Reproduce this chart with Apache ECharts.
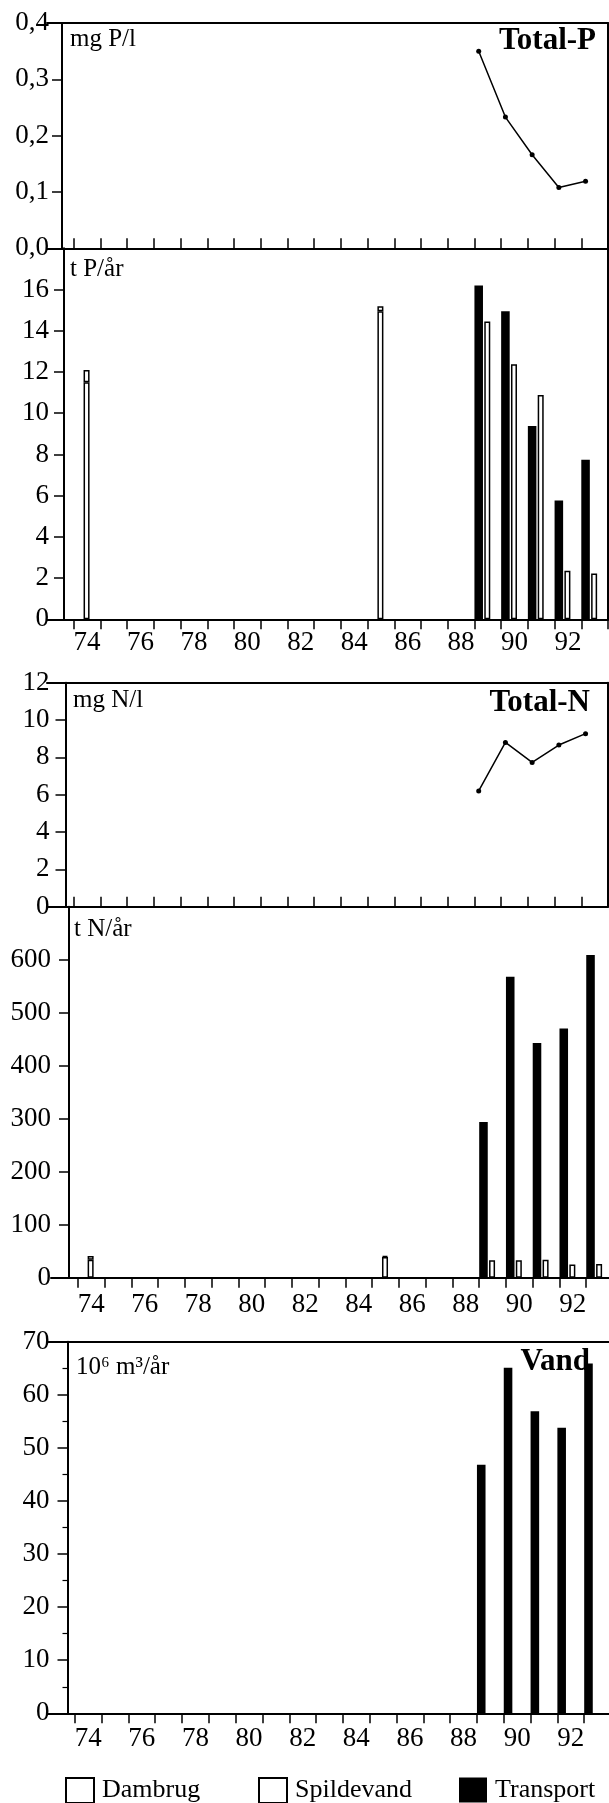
<!DOCTYPE html>
<html>
<head>
<meta charset="utf-8">
<title>Total-P, Total-N og vand</title>
<script src="https://cdn.jsdelivr.net/npm/echarts@6/dist/echarts.min.js"></script>
<style>
  html, body { margin: 0; padding: 0; background: #fff; }
  #chart { width: 609px; height: 1803px; }
</style>
</head>
<body>
<div id="chart"></div>
<script>
// years on the x axis (73 is only the empty half column left of the axis)
var years = ['73', '74', '75', '76', '77', '78', '79', '80', '81', '82', '83',
             '84', '85', '86', '87', '88', '89', '90', '91', '92', '93'];

// concentrations, measured 1989-93
var concYears = [89, 90, 91, 92, 93];
var totalP = [0.35, 0.233, 0.166, 0.108, 0.119];   // mg P/l
var totalN = [6.2, 8.8, 7.73, 8.66, 9.27];         // mg N/l

// loads, [year, value]
var pTransport  = [['89', 16.2], ['90', 14.94], ['91', 9.38], ['92', 5.76], ['93', 7.74]];
var pSpildevand = [['74', 11.5], ['85', 14.94], ['89', 14.45], ['90', 12.37], ['91', 10.88], ['92', 2.35], ['93', 2.22]];
var pDambrug    = [['74', 0.6], ['85', 0.25]];

var nTransport  = [['89', 294], ['90', 568], ['91', 443], ['92', 470], ['93', 609]];
var nSpildevand = [['74', 34], ['85', 39], ['89', 33], ['90', 33], ['91', 34], ['92', 25], ['93', 26]];
var nDambrug    = [['74', 7], ['85', 2]];

var vandTransport = [['89', 46.8], ['90', 65.1], ['91', 56.9], ['92', 53.8], ['93', 65.9]];

var FONT = 'Liberation Serif';
var INK = '#000';

function byYear(pairs) {
  var m = {};
  pairs.forEach(function (p) { m[p[0]] = p[1]; });
  return years.map(function (y) { return (y in m) ? m[y] : null; });
}

var grid = [], xAxis = [], yAxis = [], series = [];

function addPanel(p) {
  var g = grid.length;
  grid.push({ left: p.left, right: p.right, top: p.top, height: p.height,
              containLabel: false, outerBoundsMode: 'none' });

  var cat = xAxis.length;
  xAxis.push({
    type: 'category', gridIndex: g, position: 'bottom', data: years, boundaryGap: true,
    axisLine: { onZero: false, lineStyle: { color: INK, width: 2 } },
    axisTick: { show: true, inside: p.ticksInside, length: 10,
                interval: function (i) { return i > 0; },
                lineStyle: { color: INK, width: 1.5 } },
    axisLabel: { show: !p.ticksInside, margin: p.xLabelMargin || 10,
                 interval: function (i, v) { return Number(v) % 2 === 0; },
                 fontFamily: FONT, fontSize: 27, color: INK },
    splitLine: { show: false }
  });

  // top frame line, also the x scale for the concentration lines
  var val = null;
  if (p.frameTop) {
    val = xAxis.length;
    xAxis.push({
      type: 'value', gridIndex: g, position: 'top', min: 72.84, max: 93.84,
      axisLine: { show: true, onZero: false, lineStyle: { color: INK, width: 2 } },
      axisTick: { show: false }, axisLabel: { show: false }, splitLine: { show: false }
    });
  }

  var y = yAxis.length;
  yAxis.push({
    type: 'value', gridIndex: g, position: 'left', min: 0, max: p.max, interval: p.step,
    offset: p.left - p.axisX,
    axisLine: { show: true, onZero: false, lineStyle: { color: INK, width: 2 } },
    axisTick: { show: true, length: 10, lineStyle: { color: INK, width: 1.5 } },
    minorTick: { show: !!p.minor, splitNumber: 2, length: 5, lineStyle: { color: INK, width: 1.2 } },
    axisLabel: { margin: p.yLabelMargin, showMaxLabel: p.showMax !== false, formatter: p.fmt,
                 fontFamily: FONT, fontSize: 27, color: INK },
    splitLine: { show: false }
  });

  if (p.frameRight) {
    yAxis.push({
      type: 'value', gridIndex: g, position: 'right', min: 0, max: 1,
      axisLine: { show: true, onZero: false, lineStyle: { color: INK, width: 2 } },
      axisTick: { show: false }, axisLabel: { show: false }, splitLine: { show: false }
    });
  }
  return { cat: cat, val: val, y: y };
}

var whiteBar = { color: '#fff', borderColor: INK, borderWidth: 1.5 };

function loadBars(ax, transport, spild, dam) {
  series.push({ name: 'Transport', type: 'bar', xAxisIndex: ax.cat, yAxisIndex: ax.y,
                data: byYear(transport), barWidth: '32%', barGap: '15%', itemStyle: { color: INK } });
  if (spild) {
    series.push({ name: 'Spildevand', type: 'bar', stack: 'w' + ax.y, xAxisIndex: ax.cat, yAxisIndex: ax.y,
                  data: byYear(spild), barWidth: '22.5%', barGap: '15%', itemStyle: whiteBar });
    series.push({ name: 'Dambrug', type: 'bar', stack: 'w' + ax.y, xAxisIndex: ax.cat, yAxisIndex: ax.y,
                  data: byYear(dam), barWidth: '22.5%', barGap: '15%', itemStyle: whiteBar });
  }
  // empty slot: the bar groups only fill the left part of each year
  series.push({ name: 'pad', type: 'bar', xAxisIndex: ax.cat, yAxisIndex: ax.y, data: [],
                barWidth: spild ? '37.3%' : '63.2%', barGap: '15%', silent: true });
}

function concLine(ax, vals) {
  series.push({ name: 'conc', type: 'line', xAxisIndex: ax.val, yAxisIndex: ax.y,
                data: concYears.map(function (yr, i) { return [yr, vals[i]]; }),
                symbol: 'circle', symbolSize: 5,
                lineStyle: { color: INK, width: 1.5 }, itemStyle: { color: INK } });
}

var commaFmt = function (v) { return v.toFixed(1).replace('.', ','); };

var p1 = addPanel({ left: 47, right: 1, top: 23, height: 225.3, axisX: 62, ticksInside: true,
                    frameTop: true, frameRight: true, max: 0.4, step: 0.1, yLabelMargin: 13, fmt: commaFmt });
var p2 = addPanel({ left: 47, right: 1, top: 248.3, height: 371, axisX: 64, ticksInside: false,
                    frameRight: true, max: 18, step: 2, showMax: false, yLabelMargin: 15, xLabelMargin: 10 });
var p3 = addPanel({ left: 47, right: 1, top: 682.7, height: 224, axisX: 65.5, ticksInside: true,
                    frameTop: true, frameRight: true, max: 12, step: 2, yLabelMargin: 16 });
var p4 = addPanel({ left: 51, right: -4, top: 906.7, height: 371, axisX: 69, ticksInside: false,
                    max: 700, step: 100, showMax: false, yLabelMargin: 18, xLabelMargin: 14 });
var p5 = addPanel({ left: 48, right: -2, top: 1341.7, height: 371.6, axisX: 67.5, ticksInside: false,
                    frameTop: true, max: 70, step: 10, minor: true, yLabelMargin: 18, xLabelMargin: 12 });

concLine(p1, totalP);
loadBars(p2, pTransport, pSpildevand, pDambrug);
concLine(p3, totalN);
loadBars(p4, nTransport, nSpildevand, nDambrug);
loadBars(p5, vandTransport);

var unitStyle = { fontFamily: FONT, fontSize: 25, fontWeight: 'normal', color: INK };
var headStyle = { fontFamily: FONT, fontSize: 31, fontWeight: 'bold', color: INK };

var title = [
  { text: 'mg P/l', left: 70, top: 27, padding: 0, textStyle: unitStyle },
  { text: 'Total-P', right: 13, top: 25, padding: 0, textStyle: headStyle },
  { text: 't P/år', left: 70, top: 257, padding: 0, textStyle: unitStyle },
  { text: 'mg N/l', left: 73, top: 688, padding: 0, textStyle: unitStyle },
  { text: 'Total-N', right: 19, top: 687, padding: 0, textStyle: headStyle },
  { text: 't N/år', left: 74, top: 917, padding: 0, textStyle: unitStyle },
  { text: '10⁶ m³/år', left: 76, top: 1355, padding: 0, textStyle: unitStyle },
  { text: 'Vand', right: 19, top: 1346, padding: 0, z: 0, textStyle: headStyle }
];

function legendAt(name, left) {
  return {
    data: [name], left: left, top: 1772, orient: 'horizontal', selectedMode: false,
    icon: 'rect', itemWidth: 28, itemHeight: 25, itemStyle: { borderWidth: 2 },
    textStyle: { fontFamily: FONT, fontSize: 26, color: INK, padding: [0, 0, 2, 3] }
  };
}

var chart = echarts.init(document.getElementById('chart'));
chart.setOption({
  backgroundColor: '#fff',
  animation: false,
  title: title,
  legend: [legendAt('Dambrug', 60), legendAt('Spildevand', 253), legendAt('Transport', 454)],
  grid: grid,
  xAxis: xAxis,
  yAxis: yAxis,
  series: series
});
</script>
</body>
</html>
